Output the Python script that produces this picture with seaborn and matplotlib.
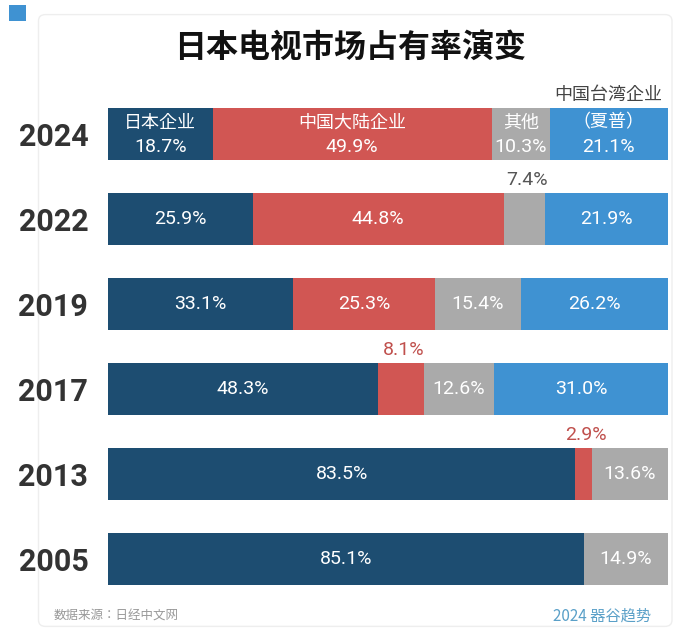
import matplotlib.pyplot as plt
import seaborn as sns
import numpy as np
import pandas as pd
from matplotlib.patches import Rectangle, FancyBboxPatch

plt.rcParams['font.family'] = 'sans-serif'
plt.rcParams['font.sans-serif'] = ['Noto Sans CJK SC', 'Noto Sans CJK JP', 'Noto Sans CJK TC',
                                   'Noto Sans CJK KR', 'DejaVu Sans']

years = ['2024', '2022', '2019', '2017', '2013', '2005']
japan = [18.7, 25.9, 33.1, 48.3, 83.5, 85.1]
mainland = [49.9, 44.8, 25.3, 8.1, 2.9, 0.0]
other = [10.3, 7.4, 15.4, 12.6, 13.6, 14.9]
taiwan = [21.1, 21.9, 26.2, 31.0, 0.0, 0.0]
series_names = ['日本企业', '中国大陆企业', '其他', '中国台湾企业']
colors = ['#1d4d71', '#d15653', '#aaaaaa', '#3f92d2']

df = pd.DataFrame({'year': years, '日本企业': japan, '中国大陆企业': mainland,
                   '其他': other, '中国台湾企业': taiwan})
cum = df[series_names].cumsum(axis=1)

fig = plt.figure(figsize=(7, 6.34), dpi=100)
fig.patches.append(FancyBboxPatch((0.055, 0.012), 0.905, 0.965, boxstyle='round,pad=0,rounding_size=0.01',
                                  transform=fig.transFigure, fc='white', ec='#eeeeee', lw=1, zorder=-5))
fig.patches.append(Rectangle((0.013, 0.967), 0.024, 0.025, transform=fig.transFigure,
                             fc='#3f92d2', ec='none', zorder=-5))
ax = fig.add_axes([0.154, 0.051, 0.8, 0.804])
ax.patch.set_alpha(0)

# stacked bars: draw cumulative totals from the last series back to the first
for name, col in reversed(list(zip(series_names, colors))):
    sns.barplot(x=cum[name], y=df['year'], order=years, orient='h', color=col,
                width=0.61, ax=ax, saturation=1, edgecolor='none')

num_font = dict(fontfamily='Roboto', fontsize=14)
for name in series_names:
    vals = df[name].values
    ends = cum[name].values
    for i, (v, e) in enumerate(zip(vals, ends)):
        if v <= 0:
            continue
        cx = e - v / 2
        if i == 0:
            label = {'中国台湾企业': '（夏普）'}.get(name, name)
            ax.text(cx, i - 0.14, label, ha='center', va='center', color='white', fontsize=13)
            ax.text(cx, i + 0.15, f'{v}%', ha='center', va='center', color='white', **num_font)
        elif v < 10:
            tc = '#555555' if name == '其他' else '#c0504d'
            ax.text(cx + 0.5, i - 0.36, f'{v}%', ha='center', va='bottom', color=tc, **num_font)
        else:
            ax.text(cx, i, f'{v}%', ha='center', va='center', color='white', **num_font)

ax.text(100 - taiwan[0] / 2, -0.36, '中国台湾企业', ha='center', va='bottom',
        color='#444444', fontsize=13)
ax.set_xlim(0, 100)
ax.set_ylim(5.5, -0.5)
ax.set_yticks(np.arange(len(years)))
ax.set_yticklabels(years, fontsize=22, color='#333333', fontfamily='Roboto', fontweight='bold')
ax.tick_params(axis='y', length=0, pad=14)
ax.set_xticks([])
ax.set_xlabel('')
ax.set_ylabel('')
for s in ax.spines.values():
    s.set_visible(False)

fig.text(0.5, 0.925, '日本电视市场占有率演变', ha='center', va='center', fontsize=23,
         fontweight='bold', color='#111111')
fig.text(0.077, 0.028, '数据来源：日经中文网', ha='left', va='center', fontsize=9, color='#999999')
fig.text(0.93, 0.028, '2024 器谷趋势', ha='right', va='center', fontsize=11, color='#5aa0c8')
fig.savefig('out.png', dpi=100)
